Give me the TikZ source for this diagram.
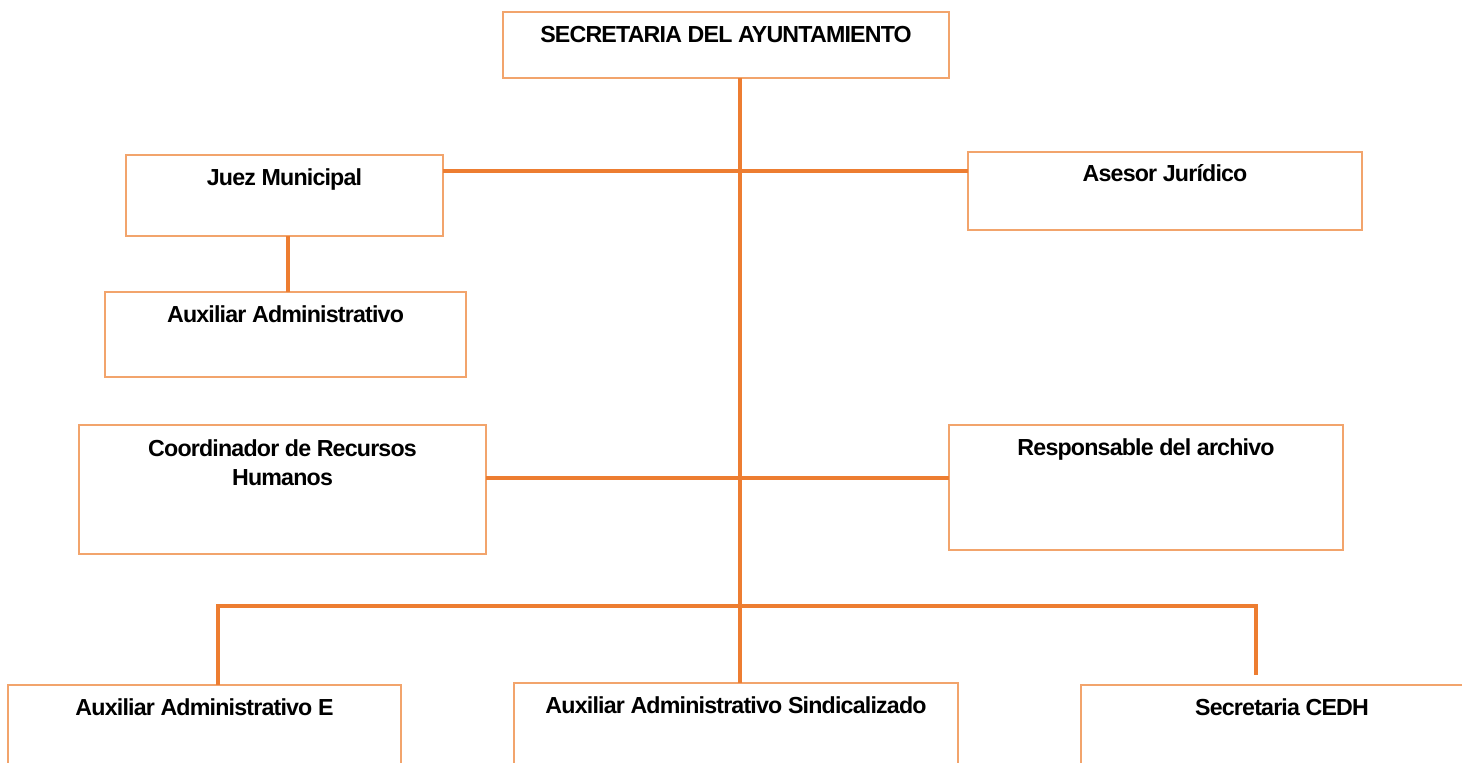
\documentclass[tikz,border=0pt]{standalone}
\usepackage{fontspec}
\setmainfont{Liberation Sans}[LetterSpace=-3.5]
\usepackage{tikz}
\usetikzlibrary{positioning}
\definecolor{linea}{HTML}{ED7D31}
\definecolor{borde}{HTML}{F2A46C}

\tikzset{
  caja/.style={draw=borde, line width=0.7pt, inner sep=0pt, outer sep=0pt, anchor=north west},
  link/.style={draw=linea, line width=2pt},
  titulo/.style={font=\fontsize{11.6}{14.5}\selectfont\bfseries, align=center, inner sep=0pt}
}

\begin{document}
\begin{tikzpicture}[x=0.5pt, y=-0.5pt]
\useasboundingbox (0,0) rectangle (1462,763);
\clip (0,0) rectangle (1462,763);

% cajas
\node[caja, minimum width=223pt, minimum height=33pt,
  label={[titulo, anchor=base, yshift=-15.3pt]north:SECRETARIA DEL AYUNTAMIENTO}] (sec) at (503,12) {};
\node[caja, minimum width=158.5pt, minimum height=40.5pt,
  label={[titulo, anchor=base, yshift=-15.5pt]north:Juez Municipal}] (juez) at (126,155) {};
\node[caja, minimum width=197pt, minimum height=39pt,
  label={[titulo, anchor=base, yshift=-14.8pt]north:Asesor Jurídico}] (asesor) at (968,152) {};
\node[caja, minimum width=180.5pt, minimum height=42.5pt,
  label={[titulo, anchor=base, yshift=-15.3pt]north:Auxiliar Administrativo}] (auxjuez) at (105,292) {};
\node[caja, minimum width=203.5pt, minimum height=64.5pt,
  label={[titulo, anchor=north, yshift=-7pt]north:Coordinador de Recursos\\Humanos}] (coord) at (79,425) {};
\node[caja, minimum width=197pt, minimum height=62.5pt,
  label={[titulo, anchor=base, yshift=-15.3pt]north:Responsable del archivo}] (resp) at (949,425) {};
\node[caja, minimum width=196.5pt, minimum height=50pt,
  label={[titulo, anchor=base, yshift=-15.5pt]north:Auxiliar Administrativo E}] (auxe) at (8,685) {};
\node[caja, minimum width=222pt, minimum height=50pt,
  label={[titulo, anchor=base, yshift=-15.3pt]north:Auxiliar Administrativo Sindicalizado}] (sind) at (514,683) {};
\node[caja, minimum width=201pt, minimum height=50pt,
  label={[titulo, anchor=base, yshift=-15.5pt]north:Secretaria CEDH}] (cedh) at (1081,685) {};

% puntos de apoyo
\coordinate (eje) at (740,0);
\coordinate (fila1) at (0,171);
\coordinate (fila2) at (0,478);
\coordinate (izq) at (218,606);
\coordinate (der) at (1256,606);

% conectores
\draw[link] (sec.south -| eje) -- (sind.north -| eje);
\draw[link] (juez.east |- fila1) -- (asesor.west |- fila1);
\draw[link] (juez.south -| 288,0) -- (auxjuez.north -| 288,0);
\draw[link] (coord.east |- fila2) -- (resp.west |- fila2);
\draw[link] (auxe.north -| izq) -- (izq) -- (der) -- ++(0,69);
\end{tikzpicture}
\end{document}
